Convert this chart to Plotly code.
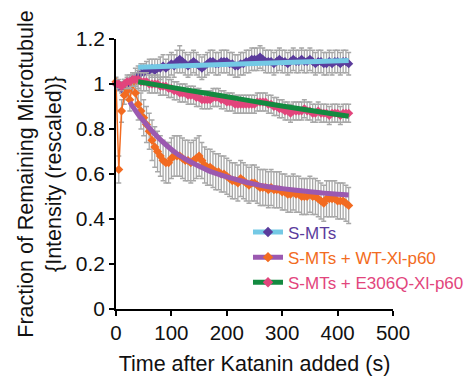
import plotly.graph_objects as go

FONT = "Liberation Sans, Arial, Helvetica, sans-serif"

# time points (s)
t = [i * 5 for i in range(85)]

s_mts = [1.00, 0.99, 0.98, 0.99, 1.00, 1.01, 1.02, 1.03, 1.04, 1.05,
         1.05, 1.06, 1.06, 1.07, 1.06, 1.07, 1.07, 1.08, 1.07, 1.08,
         1.09, 1.08, 1.10, 1.11, 1.10, 1.09, 1.08, 1.09, 1.10, 1.09,
         1.08, 1.07, 1.08, 1.09, 1.10, 1.10, 1.09, 1.09, 1.10, 1.10,
         1.10, 1.09, 1.09, 1.08, 1.08, 1.09, 1.09, 1.10, 1.10, 1.11,
         1.11, 1.11, 1.12, 1.11, 1.10, 1.10, 1.10, 1.09, 1.10, 1.11,
         1.10, 1.10, 1.09, 1.10, 1.11, 1.10, 1.10, 1.11, 1.10, 1.10,
         1.11, 1.10, 1.09, 1.10, 1.10, 1.09, 1.09, 1.10, 1.09, 1.10,
         1.10, 1.09, 1.10, 1.10, 1.09]
s_mts_err = [0.02, 0.02, 0.02, 0.03, 0.03, 0.03, 0.03, 0.04, 0.04, 0.04,
             0.04, 0.04, 0.05, 0.04, 0.05, 0.04, 0.05, 0.05, 0.04, 0.05,
             0.05, 0.05, 0.05, 0.06, 0.05, 0.05, 0.05, 0.05, 0.05, 0.05,
             0.05, 0.05, 0.05, 0.05, 0.05, 0.05, 0.05, 0.05, 0.05, 0.05,
             0.05, 0.05, 0.05, 0.05, 0.05, 0.05, 0.05, 0.05, 0.05, 0.05,
             0.05, 0.05, 0.05, 0.05, 0.05, 0.05, 0.05, 0.05, 0.05, 0.05,
             0.05, 0.05, 0.05, 0.05, 0.05, 0.05, 0.05, 0.05, 0.05, 0.05,
             0.05, 0.05, 0.05, 0.05, 0.05, 0.05, 0.05, 0.05, 0.05, 0.05,
             0.05, 0.05, 0.05, 0.05, 0.05]

wt = [1.01, 0.62, 0.88, 0.95, 0.97, 0.93, 1.00, 0.96, 0.91, 0.88,
      0.85, 0.82, 0.79, 0.75, 0.72, 0.70, 0.68, 0.66, 0.65, 0.65,
      0.67, 0.68, 0.68, 0.68, 0.67, 0.66, 0.66, 0.65, 0.66, 0.67,
      0.68, 0.66, 0.64, 0.63, 0.63, 0.62, 0.61, 0.61, 0.60, 0.60,
      0.59, 0.58, 0.57, 0.57, 0.56, 0.58, 0.57, 0.56, 0.55, 0.56,
      0.56, 0.55, 0.54, 0.54, 0.54, 0.53, 0.54, 0.53, 0.53, 0.53,
      0.52, 0.52, 0.51, 0.51, 0.52, 0.51, 0.51, 0.50, 0.50, 0.50,
      0.51, 0.50, 0.50, 0.49, 0.48, 0.47, 0.49, 0.49, 0.49, 0.49,
      0.48, 0.48, 0.48, 0.47, 0.46]
wt_err = [0.02, 0.06, 0.05, 0.04, 0.04, 0.05, 0.04, 0.06, 0.07, 0.08,
          0.08, 0.08, 0.08, 0.09, 0.09, 0.09, 0.09, 0.09, 0.09, 0.09,
          0.09, 0.09, 0.09, 0.09, 0.09, 0.09, 0.09, 0.09, 0.09, 0.09,
          0.09, 0.08, 0.08, 0.08, 0.08, 0.08, 0.08, 0.08, 0.08, 0.08,
          0.08, 0.08, 0.08, 0.08, 0.08, 0.08, 0.08, 0.08, 0.08, 0.08,
          0.08, 0.08, 0.08, 0.08, 0.08, 0.08, 0.08, 0.08, 0.08, 0.08,
          0.08, 0.08, 0.08, 0.08, 0.08, 0.08, 0.08, 0.08, 0.08, 0.08,
          0.08, 0.08, 0.08, 0.08, 0.08, 0.08, 0.08, 0.08, 0.08, 0.08,
          0.08, 0.08, 0.08, 0.08, 0.08]

e306q = [1.00, 1.00, 0.99, 1.00, 1.01, 1.01, 1.02, 1.02, 1.02, 1.01,
         1.01, 1.01, 1.00, 1.00, 1.00, 1.00, 0.99, 0.99, 0.99, 0.98,
         0.98, 0.97, 0.97, 0.96, 0.96, 0.96, 0.95, 0.95, 0.95, 0.94,
         0.94, 0.93, 0.93, 0.93, 0.93, 0.94, 0.94, 0.94, 0.93, 0.93,
         0.92, 0.92, 0.92, 0.91, 0.91, 0.91, 0.91, 0.91, 0.91, 0.91,
         0.91, 0.92, 0.92, 0.92, 0.92, 0.91, 0.91, 0.90, 0.90, 0.89,
         0.89, 0.88, 0.88, 0.87, 0.88, 0.88, 0.88, 0.88, 0.89, 0.88,
         0.88, 0.87, 0.87, 0.88, 0.87, 0.87, 0.87, 0.86, 0.87, 0.87,
         0.87, 0.86, 0.87, 0.87, 0.87]
e306q_err = [0.02, 0.02, 0.02, 0.02, 0.03, 0.03, 0.03, 0.03, 0.04, 0.04,
             0.04, 0.04, 0.04, 0.04, 0.04, 0.04, 0.04, 0.04, 0.04, 0.04,
             0.04, 0.04, 0.04, 0.04, 0.04, 0.04, 0.04, 0.04, 0.04, 0.04,
             0.04, 0.04, 0.04, 0.04, 0.04, 0.04, 0.04, 0.04, 0.04, 0.04,
             0.04, 0.04, 0.04, 0.04, 0.04, 0.04, 0.04, 0.04, 0.04, 0.04,
             0.04, 0.04, 0.04, 0.04, 0.04, 0.04, 0.04, 0.04, 0.04, 0.04,
             0.04, 0.04, 0.04, 0.04, 0.04, 0.04, 0.04, 0.04, 0.04, 0.04,
             0.04, 0.04, 0.04, 0.04, 0.04, 0.04, 0.04, 0.04, 0.04, 0.04,
             0.04, 0.04, 0.04, 0.04, 0.04]

# fitted curves
fit_s_t = [40, 420]
fit_s_v = [1.075, 1.105]
fit_wt_t = [25, 30, 40, 50, 60, 75, 90, 110, 130, 150, 175, 200, 225, 250,
            275, 300, 325, 350, 375, 400, 420]
fit_wt_v = [0.920, 0.900, 0.865, 0.835, 0.805, 0.765, 0.730, 0.690, 0.660,
            0.635, 0.607, 0.587, 0.570, 0.555, 0.543, 0.535, 0.528, 0.521,
            0.515, 0.510, 0.507]
fit_e_t = [40, 100, 160, 220, 280, 340, 420]
fit_e_v = [1.010, 0.985, 0.960, 0.935, 0.910, 0.887, 0.857]

names = ["S-MTs", "S-MTs + WT-Xl-p60", "S-MTs + E306Q-Xl-p60"]
data_colors = ["#5b3c9c", "#f26b21", "#e2457c"]
fit_colors = ["#74c9e5", "#9b59b0", "#138a40"]
GRAY = "#a8a8a8"

fig = go.Figure()

series = [(s_mts, s_mts_err), (wt, wt_err), (e306q, e306q_err)]
for (vals, errs), col in zip(series, data_colors):
    fig.add_trace(go.Scatter(
        x=t, y=vals, mode="lines+markers", showlegend=False,
        cliponaxis=False,
        line=dict(color=col, width=1.5),
        marker=dict(symbol="diamond", size=7, color=col),
        error_y=dict(type="data", array=errs, visible=True,
                     color=GRAY, thickness=1.3, width=2.5),
    ))

for fx, fy, col in [(fit_s_t, fit_s_v, fit_colors[0]),
                    (fit_wt_t, fit_wt_v, fit_colors[1]),
                    (fit_e_t, fit_e_v, fit_colors[2])]:
    fig.add_trace(go.Scatter(
        x=fx, y=fy, mode="lines", showlegend=False,
        line=dict(color=col, width=5, shape="spline"),
    ))

# legend entries
for name, dc, fc in zip(names, data_colors, fit_colors):
    fig.add_trace(go.Scatter(
        x=[None], y=[None], mode="lines+markers",
        name=f'<span style="color:{dc}">{name}</span>',
        line=dict(color=fc, width=5),
        marker=dict(symbol="diamond", size=8, color=dc),
    ))

fig.update_layout(
    width=470, height=376,
    margin=dict(l=116, r=77, t=39, b=67, autoexpand=False),
    paper_bgcolor="white", plot_bgcolor="white",
    font=dict(family=FONT, size=20, color="#111111"),
    showlegend=True,
    legend=dict(x=0.4765, y=0.35, xanchor="left", yanchor="top",
                bgcolor="rgba(0,0,0,0)", borderwidth=0,
                font=dict(family=FONT, size=17),
                itemwidth=30, tracegroupgap=0),
    xaxis=dict(range=[0, 500], tickvals=[0, 100, 200, 300, 400, 500],
               showline=True, linecolor="black", linewidth=1.5,
               ticks="outside", ticklen=5, tickwidth=1.5, tickcolor="black",
               showgrid=False, zeroline=False, automargin=False,
               tickfont=dict(size=20.5),
               title=dict(text="Time after Katanin added (s)",
                          font=dict(size=21.5), standoff=14)),
    yaxis=dict(range=[0, 1.2], tickvals=[0, 0.2, 0.4, 0.6, 0.8, 1, 1.2],
               ticktext=["0", "0.2", "0.4", "0.6", "0.8", "1", "1.2"],
               showline=True, linecolor="black", linewidth=1.5,
               ticks="outside", ticklen=5, tickwidth=1.5, tickcolor="black",
               showgrid=False, zeroline=False, automargin=False,
               tickfont=dict(size=21),
               title=dict(text="Fraction of Remaining Microtubule<br>{Intensity (rescaled)}",
                          font=dict(size=21.5), standoff=8)),
)

fig.write_html("out.html")
